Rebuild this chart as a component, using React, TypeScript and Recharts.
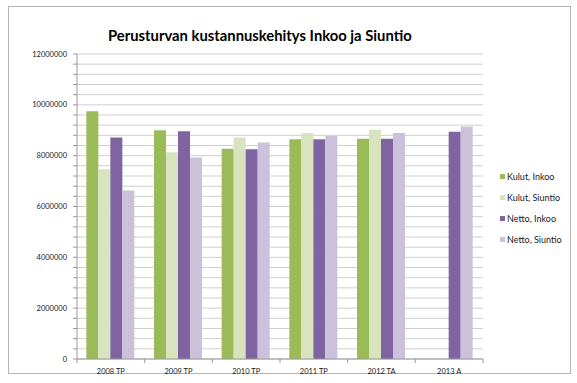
import React from 'react';
import { BarChart, Bar, XAxis, YAxis, CartesianGrid, Legend } from 'recharts';

const categories = ['2008 TP', '2009 TP', '2010 TP', '2011 TP', '2012 TA', '2013 A'];
const kulutInkoo = [9750000, 9000000, 8270000, 8650000, 8670000, null];
const kulutSiuntio = [7470000, 8130000, 8710000, 8890000, 9020000, null];
const nettoInkoo = [8710000, 8960000, 8250000, 8650000, 8670000, 8940000];
const nettoSiuntio = [6630000, 7930000, 8520000, 8780000, 8890000, 9150000];
const yTicks = [
  0, 400000, 800000, 1200000, 1600000, 2000000, 2400000, 2800000, 3200000, 3600000,
  4000000, 4400000, 4800000, 5200000, 5600000, 6000000, 6400000, 6800000, 7200000,
  7600000, 8000000, 8400000, 8800000, 9200000, 9600000, 10000000, 10400000, 10800000,
  11200000, 11600000, 12000000,
];
const labeledTicks = [0, 2000000, 4000000, 6000000, 8000000, 10000000, 12000000];

const seriesNames = ['Kulut, Inkoo', 'Kulut, Siuntio', 'Netto, Inkoo', 'Netto, Siuntio'];
const seriesColors = ['#9BBB59', '#D7E4BD', '#8064A2', '#CCC1DA'];

const data = categories.map((c, i) => ({
  name: c,
  kulutInkoo: kulutInkoo[i],
  kulutSiuntio: kulutSiuntio[i],
  nettoInkoo: nettoInkoo[i],
  nettoSiuntio: nettoSiuntio[i],
}));

const FONT = 'Lato, "Noto Sans", sans-serif';

const XTick = (props: any) => {
  const { x, y, payload, index, width, visibleTicksCount } = props;
  const band = width / visibleTicksCount;
  const left = x - band / 2;
  const right = x + band / 2;
  return (
    <g>
      <line x1={left} x2={left} y1={y} y2={y + 4} stroke="#9a9a9a" />
      {index === visibleTicksCount - 1 && (
        <line x1={right} x2={right} y1={y} y2={y + 4} stroke="#9a9a9a" />
      )}
      <text x={x} y={y + 15} textAnchor="middle" fontFamily={FONT} fontSize={7.5} fill="#1a1a1a">
        {payload.value}
      </text>
    </g>
  );
};

const renderLegend = (props: any) => (
  <div style={{ fontFamily: FONT, fontSize: 9, color: '#1a1a1a' }}>
    {(props.payload || []).map((e: any, i: number) => (
      <div key={i} style={{ display: 'flex', alignItems: 'center', height: 21, whiteSpace: 'nowrap' }}>
        <span style={{ width: 5, height: 5, background: e.color, marginRight: 2, display: 'inline-block' }} />
        <span>{e.value}</span>
      </div>
    ))}
  </div>
);

export default function App() {
  return (
    <div style={{ position: 'absolute', left: 0, top: 0, width: 577, height: 383, background: '#fff' }}>
      <div
        style={{
          position: 'absolute', left: 8, top: 6, width: 561, height: 366,
          border: '1px solid #b4b4b4', boxSizing: 'content-box',
        }}
      />
      <div
        style={{
          position: 'absolute', left: 108, top: 27, fontFamily: FONT, fontWeight: 700,
          fontSize: 14.8, lineHeight: '16px', color: '#000', whiteSpace: 'nowrap',
        }}
      >
        Perusturvan kustannuskehitys Inkoo ja Siuntio
      </div>
      <div style={{ position: 'absolute', left: 0, top: 0 }}>
        <BarChart
          width={577}
          height={383}
          data={data}
          margin={{ top: 54, right: 94, bottom: 4, left: 0 }}
          barCategoryGap="13.8%"
          barGap={0}
        >
          <CartesianGrid vertical={false} stroke="#cfcfcf" horizontalValues={yTicks} />
          <XAxis
            dataKey="name"
            height={20}
            interval={0}
            tickSize={0}
            tickMargin={0}
            tickLine={false}
            axisLine={{ stroke: '#9a9a9a' }}
            tick={<XTick />}
          />
          <YAxis
            width={77}
            domain={[0, 12000000]}
            ticks={yTicks}
            interval={0}
            tickSize={4}
            tickMargin={6}
            tickLine={{ stroke: '#9a9a9a' }}
            axisLine={{ stroke: '#9a9a9a' }}
            tick={{ fontFamily: FONT, fontSize: 7.5, fill: '#1a1a1a' }}
            tickFormatter={(v: number) => (labeledTicks.includes(v) ? String(v) : '')}
          />
          <Legend
            layout="vertical"
            align="center"
            verticalAlign="middle"
            content={renderLegend}
            wrapperStyle={{ left: 500, top: 166, width: 'auto' }}
          />
          <Bar dataKey="kulutInkoo" name={seriesNames[0]} fill={seriesColors[0]} isAnimationActive={false} />
          <Bar dataKey="kulutSiuntio" name={seriesNames[1]} fill={seriesColors[1]} isAnimationActive={false} />
          <Bar dataKey="nettoInkoo" name={seriesNames[2]} fill={seriesColors[2]} isAnimationActive={false} />
          <Bar dataKey="nettoSiuntio" name={seriesNames[3]} fill={seriesColors[3]} isAnimationActive={false} />
        </BarChart>
      </div>
    </div>
  );
}
